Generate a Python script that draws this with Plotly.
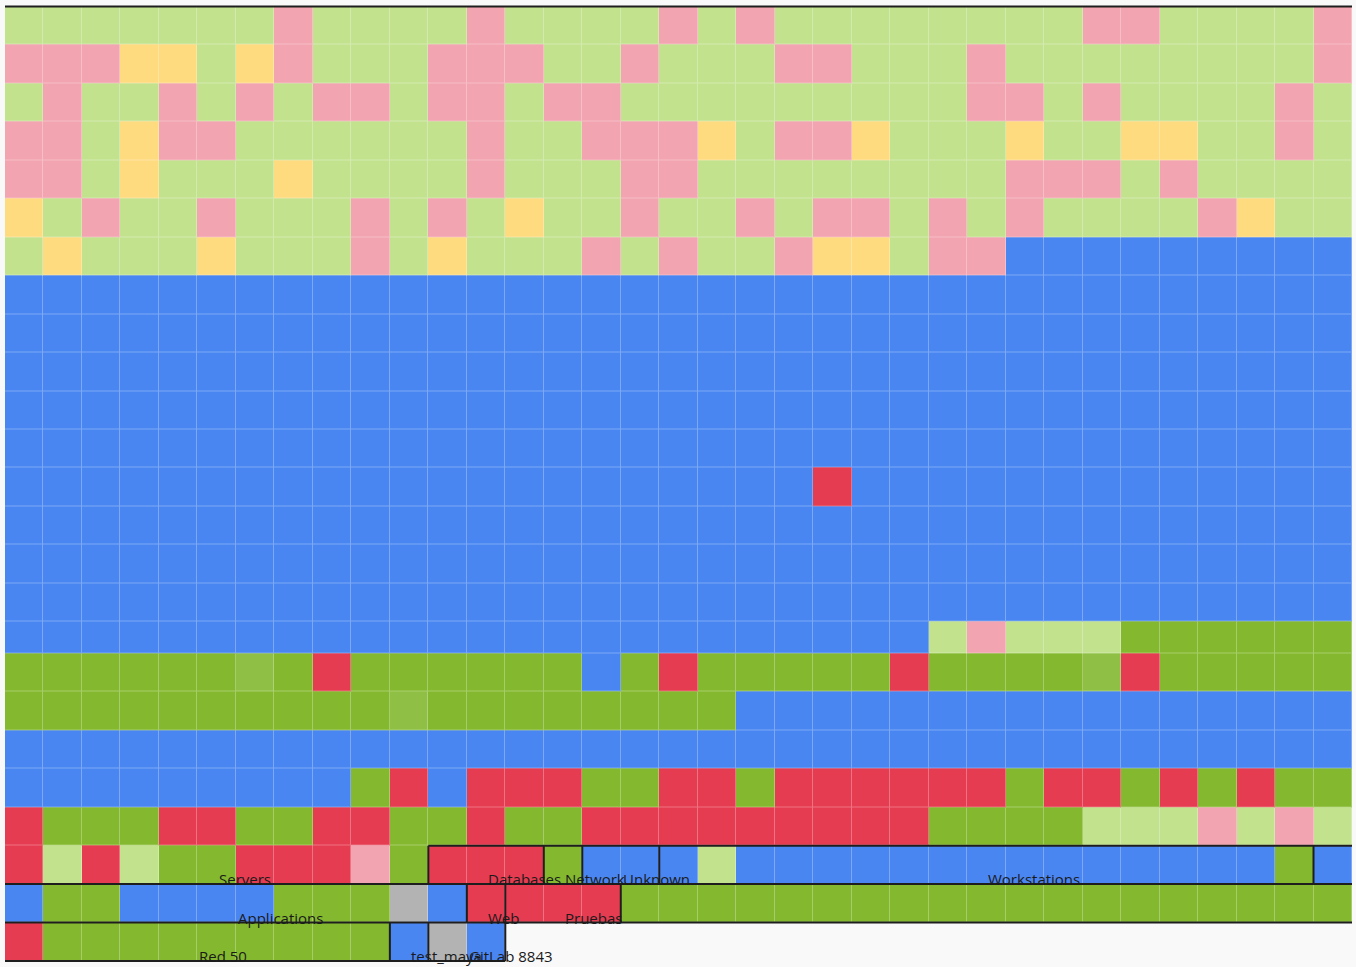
import plotly.graph_objects as go

# ---------------- data ----------------
# one string per grid row (top -> bottom), one character per host cell; "." = empty
# B blue, G green, l light green (ok), g pastel green, R red, r pastel red, Y pastel amber, H grey
rows = [
    "gggggggrggggrggggrgrggggggggrrggggr",
    "rrrYYgYrgggrrrggrgggrrgggrggggggggr",
    "grggrgrgrrgrrgrrgggggggggrrgrggggrg",
    "rrgYrrggggggrggrrrYgrrYgggYggYYggrg",
    "rrgYgggYggggrgggrrggggggggrrrgrgggg",
    "YgrggrgggrgrgYggrggrgrrgrgrggggrYgg",
    "gYgggYgggrgYgggrgrggrYYgrrBBBBBBBBB",
    "BBBBBBBBBBBBBBBBBBBBBBBBBBBBBBBBBBB",
    "BBBBBBBBBBBBBBBBBBBBBBBBBBBBBBBBBBB",
    "BBBBBBBBBBBBBBBBBBBBBBBBBBBBBBBBBBB",
    "BBBBBBBBBBBBBBBBBBBBBBBBBBBBBBBBBBB",
    "BBBBBBBBBBBBBBBBBBBBBBBBBBBBBBBBBBB",
    "BBBBBBBBBBBBBBBBBBBBBRBBBBBBBBBBBBB",
    "BBBBBBBBBBBBBBBBBBBBBBBBBBBBBBBBBBB",
    "BBBBBBBBBBBBBBBBBBBBBBBBBBBBBBBBBBB",
    "BBBBBBBBBBBBBBBBBBBBBBBBBBBBBBBBBBB",
    "BBBBBBBBBBBBBBBBBBBBBBBBgrgggGGGGGG",
    "GGGGGGlGRGGGGGGBGRGGGGGRGGGGlRGGGGG",
    "GGGGGGGGGGlGGGGGGGGBBBBBBBBBBBBBBBB",
    "BBBBBBBBBBBBBBBBBBBBBBBBBBBBBBBBBBB",
    "BBBBBBBBBGRBRRRGGRRGRRRRRRGRRGRGRGG",
    "RGGGRRGGRRGGRGGRRRRRRRRRGGGGgggrgrg",
    "RgRgGGRRRrGRRRGBBBgBBBBBBBBBBBBBBGB",
    "BGGBBBBGGGHBRRRRGGGGGGGGGGGGGGGGGGG",
    "RGGGGGGGGGBHB......................",
]

# groups in fill order (left->right, top->bottom) and their host counts
groups = ["Servers", "Databases", "Network", "Unknown", "Workstations",
          "Applications", "Web", "Pruebas", "Red 50", "test_maya", "GitLab 8843"]
group_sizes = [781, 3, 1, 2, 17, 13, 1, 3, 29, 1, 2]

status_codes = ["B", "G", "l", "g", "R", "r", "Y", "H"]
status_colors = ["#4a86f2", "#84b92f", "#8fc045", "#c2e28e",
                 "#e63c51", "#f2a5b0", "#ffdb80", "#b3b3b3"]

# ---------------- layout helpers ----------------
N_COLS = len(rows[0])
N_ROWS = len(rows)
code_index = {c: i for i, c in enumerate(status_codes)}
z = [[code_index.get(ch) for ch in row] for row in rows]

row_heights = [1.0] * N_ROWS
row_heights[16] = 0.822          # the short row in the picture
y_edges = [0.0]
for h in row_heights:
    y_edges.append(y_edges[-1] + h)
x_edges = list(range(N_COLS + 1))


def tint(hexc, a=0.28):
    h = hexc.lstrip("#")
    r, g, b = (int(h[i:i + 2], 16) for i in (0, 2, 4))
    mix = lambda v: int(round(v + (255 - v) * a))
    return "#%02x%02x%02x" % (mix(r), mix(g), mix(b))


def discrete(colors):
    n = len(colors)
    cs = []
    for i, c in enumerate(colors):
        cs.append([i / n, c])
        cs.append([(i + 1) / n, c])
    return cs


nz = len(status_codes)
fig = go.Figure()
# lighter underlay shows through the 1px gaps as grid lines
fig.add_trace(go.Heatmap(z=z, x=x_edges, y=y_edges,
                         colorscale=discrete([tint(c) for c in status_colors]),
                         zmin=-0.5, zmax=nz - 0.5, showscale=False, hoverinfo="skip"))
fig.add_trace(go.Heatmap(z=z, x=x_edges, y=y_edges,
                         colorscale=discrete(status_colors),
                         zmin=-0.5, zmax=nz - 0.5, showscale=False,
                         xgap=1, ygap=1, hoverinfo="skip"))

# group id for every cell (flow order)
total = sum(group_sizes)
flat_gid = []
for gi, s in enumerate(group_sizes):
    flat_gid += [gi] * s
gid = [[(flat_gid[r * N_COLS + c] if r * N_COLS + c < total else -1)
        for c in range(N_COLS)] for r in range(N_ROWS)]

# outline path between different groups
segs = []
for r in range(N_ROWS + 1):
    run = None
    for c in range(N_COLS + 1):
        draw = False
        if c < N_COLS:
            above = gid[r - 1][c] if r > 0 else -2
            below = gid[r][c] if r < N_ROWS else -2
            draw = above != below and not (above < 0 and below < 0)
        if draw and run is None:
            run = c
        if not draw and run is not None:
            segs.append(((run, y_edges[r]), (c, y_edges[r])))
            run = None
for c in range(1, N_COLS):
    run = None
    for r in range(N_ROWS + 1):
        draw = False
        if r < N_ROWS:
            left, right = gid[r][c - 1], gid[r][c]
            draw = left != right and not (left < 0 and right < 0)
        if draw and run is None:
            run = r
        if not draw and run is not None:
            segs.append(((c, y_edges[run]), (c, y_edges[r])))
            run = None
path = " ".join("M %g,%g L %g,%g" % (a[0], a[1], b[0], b[1]) for a, b in segs)
fig.add_shape(type="path", path=path, xref="x", yref="y",
              line=dict(color="#1e1e1e", width=2))

# labels: start at the middle of each group's last row span, on its bottom edge
annotations = []
start = 0
for name, size in zip(groups, group_sizes):
    last = start + size - 1
    r1 = last // N_COLS
    c_first = max(start - r1 * N_COLS, 0)
    c_last = last % N_COLS
    mid = (c_first + c_last + 1) / 2
    annotations.append(dict(x=mid, y=y_edges[r1 + 1], text=name, showarrow=False,
                            xanchor="left", yanchor="bottom", yshift=-7,
                            font=dict(family="Open Sans", size=15, color="#1a1a1a")))
    start += size

W, H = 1356, 967
mt, mb, ml, mr = 4, 4, 5, 4
top_px, bot_px = 6.5, 961.0
ppu = (bot_px - top_px) / y_edges[-1]
y_top = -(top_px - mt) / ppu
y_bot = y_edges[-1] + ((H - mb) - bot_px) / ppu

fig.update_layout(
    width=W, height=H,
    margin=dict(l=ml, r=mr, t=mt, b=mb, pad=0),
    paper_bgcolor="#f9f9f9", plot_bgcolor="#f9f9f9",
    xaxis=dict(range=[0, N_COLS], visible=False, showgrid=False, zeroline=False, fixedrange=True),
    yaxis=dict(range=[y_bot, y_top], visible=False, showgrid=False, zeroline=False, fixedrange=True),
    annotations=annotations,
    showlegend=False,
)
fig.write_html("out.html",
               config={"displayModeBar": False},
               post_script="document.body.style.margin='0px';document.body.style.overflow='hidden';")
